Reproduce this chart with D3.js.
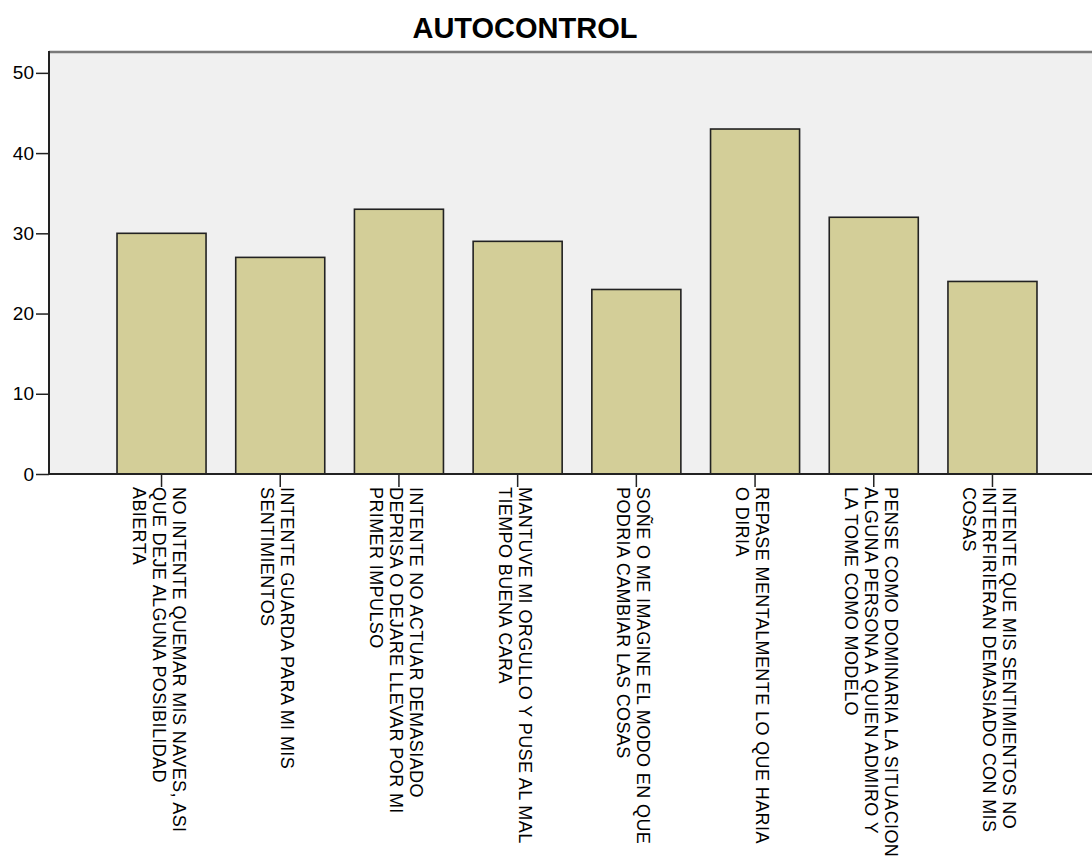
<!DOCTYPE html>
<html>
<head>
<meta charset="utf-8">
<script src="https://cdn.jsdelivr.net/npm/d3@7"></script>
<style>
  html, body { margin: 0; padding: 0; background: #ffffff; }
  svg { display: block; }
  text { font-family: "Liberation Sans", Arial, sans-serif; fill: #000; }
</style>
</head>
<body>
<svg id="chart" width="1092" height="859"></svg>
<script>
// Category labels, one array of lines per bar
const categories = [
  ["NO INTENTE QUEMAR MIS NAVES, ASI", "QUE DEJE ALGUNA POSIBILIDAD", "ABIERTA"],
  ["INTENTE GUARDA PARA MI MIS", "SENTIMIENTOS"],
  ["INTENTE NO ACTUAR DEMASIADO", "DEPRISA O DEJARE LLEVAR POR MI", "PRIMER IMPULSO"],
  ["MANTUVE MI ORGULLO Y PUSE AL MAL", "TIEMPO BUENA CARA"],
  ["SOÑE O ME IMAGINE EL MODO EN QUE", "PODRIA CAMBIAR LAS COSAS"],
  ["REPASE MENTALMENTE LO QUE HARIA", "O DIRIA"],
  ["PENSE COMO DOMINARIA LA SITUACION", "ALGUNA PERSONA A QUIEN ADMIRO Y", "LA TOME COMO MODELO"],
  ["INTENTE QUE MIS SENTIMIENTOS NO", "INTERFIRIERAN DEMASIADO CON MIS", "COSAS"]
];
const counts = [30, 27, 33, 29, 23, 43, 32, 24];
const yTicks = [0, 10, 20, 30, 40, 50];
const title = "AUTOCONTROL";

const svg = d3.select("#chart");

const plot = { left: 49, top: 52, bottom: 474, right: 1105 };

const x = d3.scaleBand()
  .domain(d3.range(counts.length))
  .range([plot.left, plot.right])
  .paddingInner(0.25)
  .paddingOuter(0.573);

const y = d3.scaleLinear()
  .domain([0, 52.6])
  .range([plot.bottom, plot.top]);

// Plot background
svg.append("rect")
  .attr("x", plot.left).attr("y", plot.top)
  .attr("width", plot.right - plot.left)
  .attr("height", plot.bottom - plot.top)
  .attr("fill", "#f0f0f0");

// Top frame edge
svg.append("line")
  .attr("x1", plot.left).attr("x2", plot.right)
  .attr("y1", plot.top).attr("y2", plot.top)
  .attr("stroke", "#7a7a7a").attr("stroke-width", 2.5);

// Bars
svg.append("g").selectAll("rect")
  .data(counts)
  .join("rect")
  .attr("x", (d, i) => x(i))
  .attr("y", d => y(d))
  .attr("width", x.bandwidth())
  .attr("height", d => y(0) - y(d))
  .attr("fill", "#d3ce98")
  .attr("stroke", "#222")
  .attr("stroke-width", 1.6);

// Y axis
const yAxis = d3.axisLeft(y)
  .tickValues(yTicks)
  .tickSize(13)
  .tickPadding(2)
  .tickFormat(d3.format("d"));

const gy = svg.append("g")
  .attr("transform", `translate(${plot.left},0)`)
  .call(yAxis);
gy.select(".domain").remove();
gy.selectAll(".tick line").attr("stroke", "#222").attr("stroke-width", 1.5);
gy.selectAll(".tick text")
  .attr("font-size", 19)
  .attr("font-family", "'Liberation Sans', Arial, sans-serif")
  .attr("fill", "#000");

svg.append("line")
  .attr("x1", plot.left).attr("x2", plot.left)
  .attr("y1", plot.top - 1).attr("y2", plot.bottom)
  .attr("stroke", "#222").attr("stroke-width", 2);

// X axis with rotated multi-line labels
const xAxis = d3.axisBottom(x).tickSize(13).tickFormat("");
const gx = svg.append("g")
  .attr("transform", `translate(0,${plot.bottom})`)
  .call(xAxis);
gx.select(".domain").remove();
gx.selectAll(".tick line").attr("stroke", "#222").attr("stroke-width", 1.5);

svg.append("line")
  .attr("x1", plot.left - 1).attr("x2", plot.right)
  .attr("y1", plot.bottom).attr("y2", plot.bottom)
  .attr("stroke", "#222").attr("stroke-width", 2);

const lineGap = 20;
const labels = svg.append("g").selectAll("text")
  .data(categories)
  .join("text")
  .attr("transform", (d, i) => `translate(${x(i) + x.bandwidth() / 2},${plot.bottom}) rotate(90)`)
  .attr("font-size", 18)
  .attr("letter-spacing", 0.4)
  .attr("text-anchor", "start");

labels.each(function (lines) {
  const base = 9 - (lines.length - 1) * lineGap / 2;
  d3.select(this).selectAll("tspan")
    .data(lines)
    .join("tspan")
    .attr("x", 13)
    .attr("y", (l, k) => base + k * lineGap)
    .text(l => l);
});

// Title
svg.append("text")
  .attr("x", 525)
  .attr("y", 38)
  .attr("text-anchor", "middle")
  .attr("font-size", 29)
  .attr("font-weight", "bold")
  .text(title);
</script>
</body>
</html>
